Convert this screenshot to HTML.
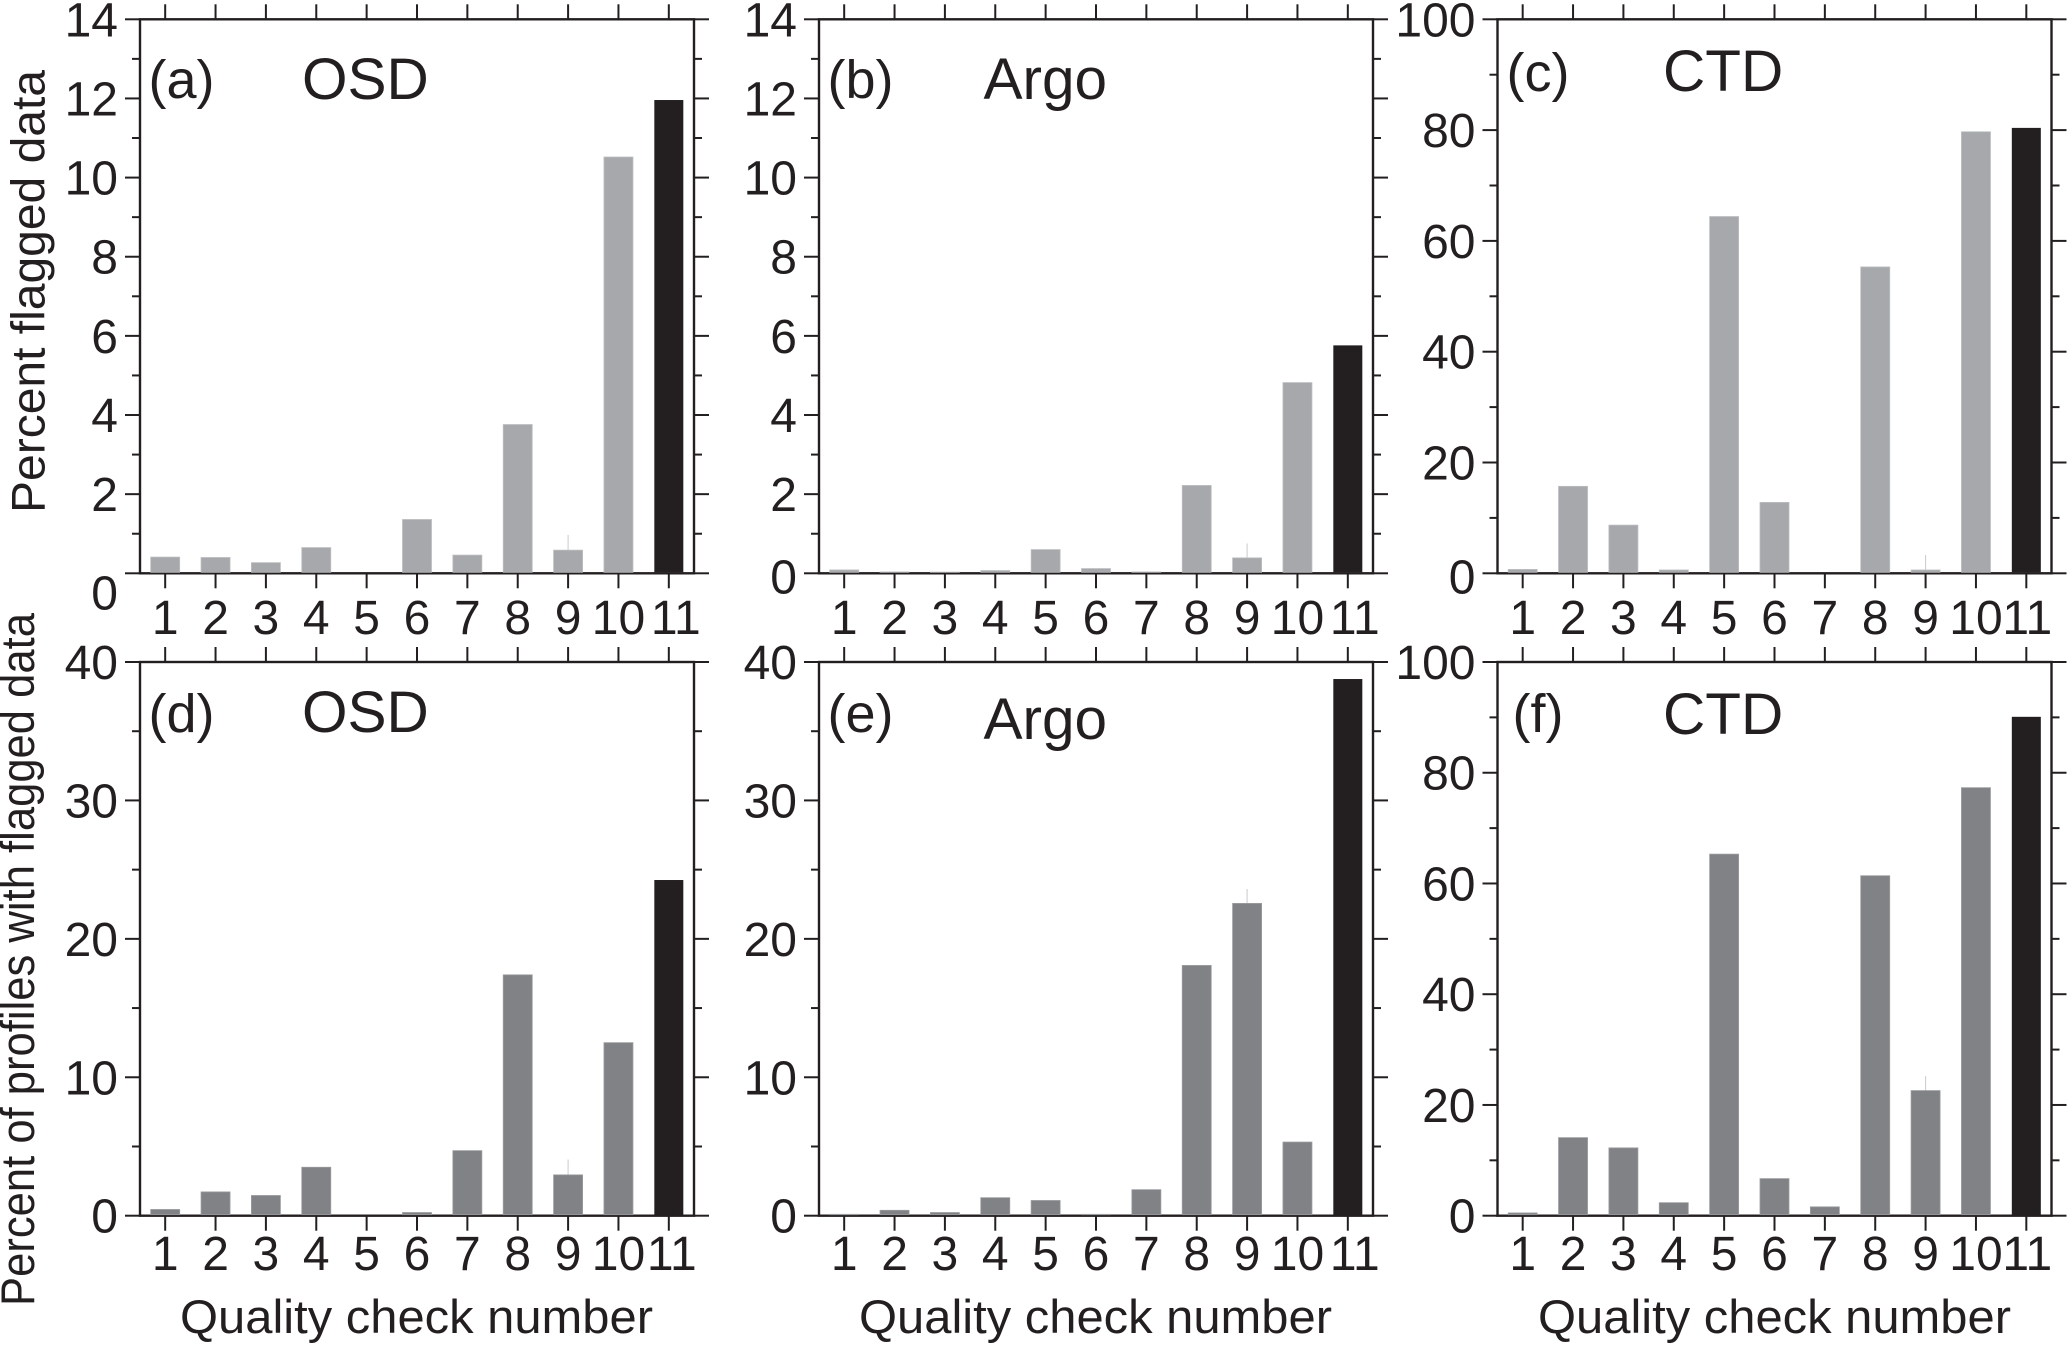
<!DOCTYPE html>
<html lang="en">
<head>
<meta charset="utf-8">
<title>Quality check flagged data by instrument</title>
<style>
  html, body { margin: 0; padding: 0; background: #ffffff; }
  svg { display: block; }
  text { font-family: "Liberation Sans", Arial, sans-serif; fill: #231f20; }
  .panel-letter { font-size: 54px; }
  .panel-title { font-size: 58.5px; }
  .axis-title { font-size: 47px; }
</style>
</head>
<body>
<svg id="figure" xmlns="http://www.w3.org/2000/svg" width="2067" height="1345" viewBox="0 0 2067 1345">
  <rect x="0" y="0" width="2067" height="1345" fill="#ffffff"/>
  <g id="panels"></g>

  <text class="panel-letter" x="148.5" y="98">(a)</text>
  <text class="panel-title" x="302" y="99">OSD</text>
  <text class="panel-letter" x="827.5" y="98">(b)</text>
  <text class="panel-title" x="983.5" y="99">Argo</text>
  <text class="panel-letter" x="1506.5" y="91">(c)</text>
  <text class="panel-title" x="1663" y="91">CTD</text>
  <text class="panel-letter" x="148.5" y="732">(d)</text>
  <text class="panel-title" x="302" y="732">OSD</text>
  <text class="panel-letter" x="827.5" y="732">(e)</text>
  <text class="panel-title" x="983.5" y="739">Argo</text>
  <text class="panel-letter" x="1512.5" y="732">(f)</text>
  <text class="panel-title" x="1663" y="734">CTD</text>

  <text class="axis-title" transform="translate(44.5 513) rotate(-90)" textLength="443" lengthAdjust="spacingAndGlyphs">Percent flagged data</text>
  <text class="axis-title" transform="translate(34 1306) rotate(-90)" textLength="693" lengthAdjust="spacingAndGlyphs">Percent of profiles with flagged data</text>
  <text class="axis-title" x="180" y="1333" textLength="473" lengthAdjust="spacingAndGlyphs">Quality check number</text>
  <text class="axis-title" x="859" y="1333" textLength="473" lengthAdjust="spacingAndGlyphs">Quality check number</text>
  <text class="axis-title" x="1538" y="1333" textLength="473" lengthAdjust="spacingAndGlyphs">Quality check number</text>
</svg>

<script>
/* Data */
const categories = ['1','2','3','4','5','6','7','8','9','10','11'];

const osdFlagged    = [0.41, 0.40, 0.27, 0.65, 0.01, 1.36, 0.46, 3.76, 0.585, 10.52, 11.96];
const argoFlagged   = [0.085, 0.035, 0.03, 0.07, 0.60, 0.12, 0.035, 2.22, 0.39, 4.82, 5.76];
const ctdFlagged    = [0.7, 15.7, 8.7, 0.6, 64.4, 12.8, 0.05, 55.3, 0.6, 79.7, 80.4];
const osdProfiles   = [0.45, 1.72, 1.46, 3.5, 0.03, 0.23, 4.7, 17.4, 2.95, 12.5, 24.25];
const argoProfiles  = [0.1, 0.39, 0.23, 1.3, 1.1, 0.1, 1.88, 18.08, 22.56, 5.32, 38.77];
const ctdProfiles   = [0.5, 14.1, 12.25, 2.35, 65.3, 6.7, 1.6, 61.4, 22.6, 77.3, 90.1];

/* Upper end of the faint whisker on check 9, one per panel (a–f) */
const check9Whisker = [0.97, 0.755, 3.3, 4.06, 23.6, 25.2];

const tickLabels14  = ['0','2','4','6','8','10','12','14'];
const tickLabels40  = ['0','10','20','30','40'];
const tickLabels100 = ['0','20','40','60','80','100'];

const minorTicks14  = [1,3,5,7,9,11,13];
const minorTicks40  = [5,15,25,35];
const minorTicks100 = [10,30,50,70,90];

/* Layout (separate from the data) */
const LAYOUT = [
  { id:'a', values:osdFlagged,   labels:tickLabels14,  minor:minorTicks14,  max:14,  left:140,  top:19.3,  bottom:573.3,  color:'#a6a8ab', edge:'#bcbec0', zeroDy:19, xBase:634,  elevenDx:7 },
  { id:'b', values:argoFlagged,  labels:tickLabels14,  minor:minorTicks14,  max:14,  left:819,  top:19.3,  bottom:573.3,  color:'#a6a8ab', edge:'#bcbec0', zeroDy:3,  xBase:634,  elevenDx:7 },
  { id:'c', values:ctdFlagged,   labels:tickLabels100, minor:minorTicks100, max:100, left:1497.5,top:19.3, bottom:573.3,  color:'#a6a8ab', edge:'#bcbec0', zeroDy:3,  xBase:634,  elevenDx:1 },
  { id:'d', values:osdProfiles,  labels:tickLabels40,  minor:minorTicks40,  max:40,  left:140,  top:662,   bottom:1215.7, color:'#808285', edge:'#9a9c9f', zeroDy:0,  xBase:1270, elevenDx:3 },
  { id:'e', values:argoProfiles, labels:tickLabels40,  minor:minorTicks40,  max:40,  left:819,  top:662,   bottom:1215.7, color:'#808285', edge:'#9a9c9f', zeroDy:0,  xBase:1270, elevenDx:7 },
  { id:'f', values:ctdProfiles,  labels:tickLabels100, minor:minorTicks100, max:100, left:1497.5,top:662,  bottom:1215.7, color:'#808285', edge:'#9a9c9f', zeroDy:0,  xBase:1270, elevenDx:1 }
];
const PANEL_W = 554, BAR_W = 29, MAJOR = 15, MINOR = 8, INK = '#231f20', LAST_BAR = '#231f20', LABEL_SIZE = 48;
const NS = 'http://www.w3.org/2000/svg';

function make(parent, tag, attrs) {
  const node = document.createElementNS(NS, tag);
  for (const key in attrs) node.setAttribute(key, attrs[key]);
  parent.appendChild(node);
  return node;
}

function drawPanel(cfg, panelIndex) {
  const root = document.getElementById('panels');
  const g = make(root, 'g', {});
  
  

  const right = cfg.left + PANEL_W;
  const xScale = function (i) { return cfg.left + (i + 0.5) * PANEL_W / categories.length; };
  const yScale = function (v) { return cfg.bottom - (v / cfg.max) * (cfg.bottom - cfg.top); };

  /* whisker on check 9 */
  const wx = xScale(8);
  const whisker = make(g, 'line', { x1: wx, x2: wx, y1: yScale(cfg.values[8]), y2: yScale(check9Whisker[panelIndex]), stroke: '#c9cacc', 'stroke-width': 1 });
  
  

  /* frame */
  const frame = make(g, 'rect', { x: cfg.left, y: cfg.top, width: PANEL_W, height: cfg.bottom - cfg.top, fill: 'none', stroke: INK, 'stroke-width': 2.4 });
  
  

  /* bars sit over the frame so very small values still show at the baseline */
  categories.forEach(function (cat, i) {
    const y = yScale(cfg.values[i]);
    const isLast = i === categories.length - 1;
    const bar = make(g, 'rect', {
      x: xScale(i) - BAR_W / 2, y: y, width: BAR_W, height: Math.max(cfg.bottom - y - 1, 0),
      fill: isLast ? LAST_BAR : cfg.color,
      stroke: isLast ? 'none' : cfg.edge, 'stroke-width': 0.8
    });
    
    
  });

  /* x ticks and labels */
  categories.forEach(function (cat, i) {
    const x = xScale(i);
    const low = make(g, 'line', { x1: x, x2: x, y1: cfg.bottom, y2: cfg.bottom + MAJOR, stroke: INK, 'stroke-width': 2 });
    
    
    const up = make(g, 'line', { x1: x, x2: x, y1: cfg.top, y2: cfg.top - MAJOR, stroke: INK, 'stroke-width': 2 });
    
    
    const label = make(g, 'text', { x: x + (cat === '11' ? cfg.elevenDx : 0), y: cfg.xBase, 'text-anchor': 'middle', 'font-size': LABEL_SIZE });
    label.textContent = cat;
    
    
  });

  /* y major ticks and labels */
  cfg.labels.forEach(function (text) {
    const y = yScale(Number(text));
    const l = make(g, 'line', { x1: cfg.left - MAJOR, x2: cfg.left, y1: y, y2: y, stroke: INK, 'stroke-width': 2 });
    
    
    const r = make(g, 'line', { x1: right, x2: right + MAJOR, y1: y, y2: y, stroke: INK, 'stroke-width': 2 });
    
    
    const label = make(g, 'text', { x: cfg.left - 22, y: y + 17 + (text === '0' ? cfg.zeroDy : 0), 'text-anchor': 'end', 'font-size': LABEL_SIZE });
    label.textContent = text;
    
    
  });

  /* y minor ticks */
  cfg.minor.forEach(function (v) {
    const y = yScale(v);
    const l = make(g, 'line', { x1: cfg.left - MINOR, x2: cfg.left, y1: y, y2: y, stroke: INK, 'stroke-width': 2 });
    
    
    const r = make(g, 'line', { x1: right, x2: right + MINOR, y1: y, y2: y, stroke: INK, 'stroke-width': 2 });
    
    
  });
}

LAYOUT.forEach(drawPanel);
</script>
</body>
</html>
